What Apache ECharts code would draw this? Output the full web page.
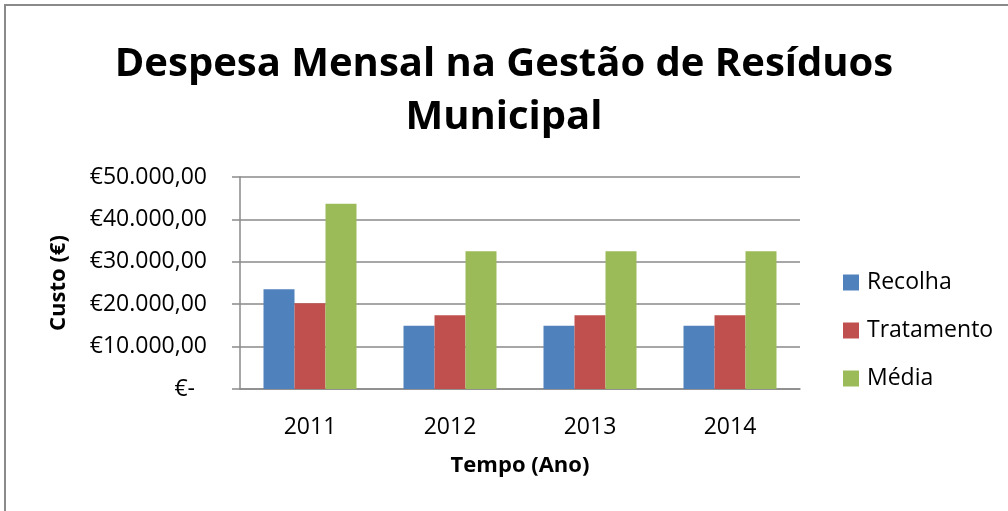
<!DOCTYPE html>
<html lang="pt">
<head>
  <meta charset="UTF-8">
  <title>Despesa Mensal na Gestão de Resíduos Municipal</title>
  <script src="https://cdn.jsdelivr.net/npm/echarts@6/dist/echarts.min.js"></script>
  <style>
    body { margin: 0; padding: 0; background: #fff; }
    #chart { width: 1008px; height: 511px; }
  </style>
</head>
<body>
  <div id="chart"></div>
  <script>
    // dados
    const anos = ['2011', '2012', '2013', '2014'];
    const recolha = [23500, 14900, 14900, 14900];
    const tratamento = [20200, 17400, 17400, 17400];
    const media = [43700, 32500, 32500, 32500];

    const fonte = '"Open Sans", sans-serif';
    const cinza = '#8a8a8a';

    // formato contabilístico: €10.000,00 e €- para zero
    function euro(v) {
      if (v === 0) return '{z|€-}';
      const s = String(v).replace(/\B(?=(\d{3})+(?!\d))/g, '.');
      return '€' + s + ',00';
    }

    const chart = echarts.init(document.getElementById('chart'));

    chart.setOption({
      animation: false,
      textStyle: { fontFamily: fonte },
      title: {
        text: 'Despesa Mensal na Gestão de Resíduos\nMunicipal',
        left: 'center',
        top: 33,
        textStyle: {
          fontFamily: fonte,
          fontSize: 40,
          fontWeight: 'bold',
          color: '#000',
          lineHeight: 53
        }
      },
      legend: {
        orient: 'vertical',
        left: 843,
        top: 271,
        padding: 0,
        itemWidth: 16,
        itemHeight: 16,
        itemGap: 25,
        icon: 'rect',
        textStyle: {
          fontFamily: fonte,
          fontSize: 23,
          color: '#000',
          padding: [0, 0, 0, 3]
        },
        data: ['Recolha', 'Tratamento', 'Média']
      },
      grid: { left: 240, right: 208, top: 177, bottom: 122 },
      xAxis: {
        type: 'category',
        data: anos,
        name: 'Tempo (Ano)',
        nameLocation: 'middle',
        nameGap: 66,
        nameTextStyle: { fontFamily: fonte, fontSize: 22, fontWeight: 'bold', color: '#000' },
        axisLine: { lineStyle: { color: cinza, width: 1.5 } },
        axisTick: { show: false },
        axisLabel: { fontFamily: fonte, fontSize: 23, color: '#000', margin: 27 }
      },
      yAxis: {
        type: 'value',
        min: 0,
        max: 50000,
        interval: 10000,
        name: 'Custo (€)',
        nameLocation: 'middle',
        nameGap: 170,
        nameTextStyle: { fontFamily: fonte, fontSize: 22, fontWeight: 'bold', color: '#000' },
        axisLine: { show: true, lineStyle: { color: cinza, width: 1.5 } },
        axisTick: { show: true, length: 8, lineStyle: { color: cinza, width: 1.5 } },
        splitLine: { lineStyle: { color: cinza, width: 1.5 } },
        axisLabel: {
          fontFamily: fonte,
          fontSize: 23,
          color: '#000',
          margin: 33,
          formatter: euro,
          rich: { z: { fontFamily: fonte, fontSize: 23, color: '#000', padding: [0, 12, 0, 0] } }
        }
      },
      series: [
        { name: 'Recolha', type: 'bar', data: recolha, barWidth: 31, barGap: '0%', itemStyle: { color: '#4F81BD' } },
        { name: 'Tratamento', type: 'bar', data: tratamento, barWidth: 31, barGap: '0%', itemStyle: { color: '#C0504D' } },
        { name: 'Média', type: 'bar', data: media, barWidth: 31, barGap: '0%', itemStyle: { color: '#9BBB59' } }
      ],
      graphic: [{
        type: 'rect',
        shape: { x: 5, y: 5, width: 1020, height: 530 },
        style: { fill: 'none', stroke: cinza, lineWidth: 2 },
        silent: true
      }]
    });
  </script>
</body>
</html>
